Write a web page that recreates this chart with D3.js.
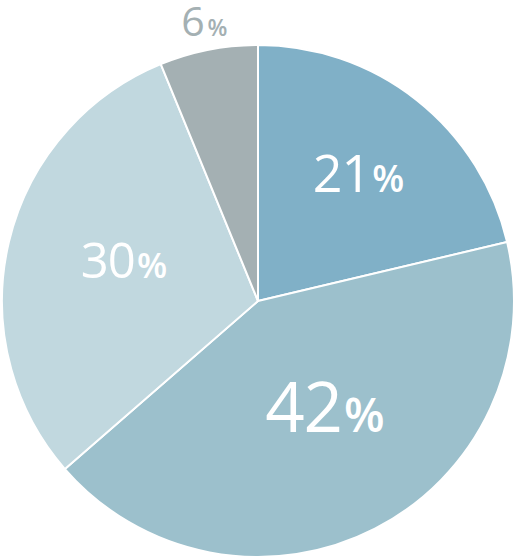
<!DOCTYPE html>
<html>
<head>
<meta charset="utf-8">
<script src="https://cdn.jsdelivr.net/npm/d3@7"></script>
<style>
  html, body { margin: 0; padding: 0; background: #fff; }
  svg { display: block; }
</style>
</head>
<body>
<script>
// slice values (clockwise from 12 o'clock)
let labels = ["21", "42", "30", "6"];
let values = [21.3, 42.3, 30.2, 6.2];
let colors = ["#80b0c7", "#9cc0cc", "#c1d8df", "#a4b0b3"];

// label styling: digit size, % size, radius factor, angle nudge (deg), fill
let labelSizes = [52, 69, 49, 41];
let pctSizes = [37, 47, 35, 23];
let labelRadius = [0.634, 0.491, 0.547, 1.113];
let labelNudge = [-0.1, -5.0, 3.5, 0.3];
let labelFill = ["#fff", "#fff", "#fff", "#a4b0b3"];

let width = 516, height = 560;
let cx = 258, cy = 301, radius = 256;

let svg = d3.select("body").append("svg")
    .attr("width", width)
    .attr("height", height)
    .append("g")
    .attr("transform", `translate(${cx},${cy})`);

let pie = d3.pie().sort(null).value(d => d);
let arcs = pie(values);

let arc = d3.arc().innerRadius(0).outerRadius(radius);

svg.selectAll("path.slice")
    .data(arcs)
    .join("path")
    .attr("class", "slice")
    .attr("d", arc)
    .attr("fill", (d, i) => colors[i])
    .attr("stroke", "#fff")
    .attr("stroke-width", 2)
    .attr("stroke-linejoin", "round");

arcs.forEach((d, i) => {
    let a = (d.startAngle + d.endAngle) / 2 + labelNudge[i] * Math.PI / 180;
    let r = radius * labelRadius[i];
    let x = r * Math.sin(a);
    let y = -r * Math.cos(a);
    let fs = labelSizes[i];

    let t = svg.append("text")
        .attr("x", x)
        .attr("y", y + fs * 0.357)
        .attr("text-anchor", "middle")
        .attr("font-family", "'Open Sans', sans-serif")
        .attr("fill", labelFill[i]);

    t.append("tspan")
        .attr("font-size", fs)
        .attr("letter-spacing", -1)
        .text(labels[i]);
    t.append("tspan")
        .attr("font-size", pctSizes[i])
        .attr("font-weight", 600)
        .attr("dx", i === 3 ? 4 : 2)
        .text("%");
});
</script>
</body>
</html>
